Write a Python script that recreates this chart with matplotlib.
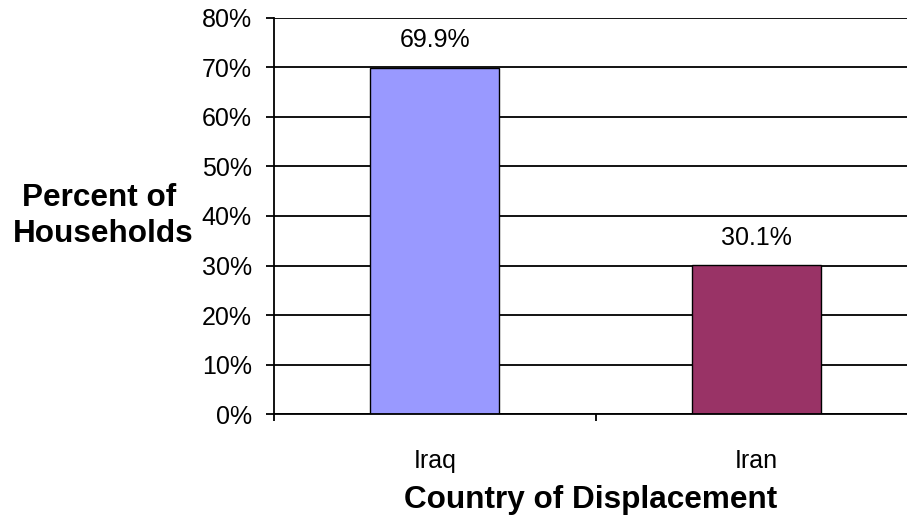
import matplotlib
matplotlib.use("Agg")
import matplotlib.pyplot as plt
from matplotlib.ticker import FixedLocator, PercentFormatter

categories = ["Iraq", "Iran"]
values = [0.699, 0.301]
value_labels = ["69.9%", "30.1%"]
bar_colors = ["#9999FF", "#993366"]
y_ticks = [0.0, 0.1, 0.2, 0.3, 0.4, 0.5, 0.6, 0.7, 0.8]

plt.rcParams["font.family"] = ["Liberation Sans", "DejaVu Sans"]

fig = plt.figure(figsize=(9.07, 5.26), dpi=100)
ax = fig.add_axes([273.7 / 907, 111.7 / 526, 644 / 907, 396.8 / 526])

x = list(range(len(categories)))
bars = ax.bar(x, values, width=0.4, color=bar_colors, edgecolor="black",
              linewidth=1.0, zorder=3)

ax.set_xlim(-0.5, len(categories) - 0.5)
ax.set_ylim(0, 0.8)
ax.set_yticks(y_ticks)
ax.yaxis.set_major_formatter(PercentFormatter(xmax=1.0, decimals=0))
ax.yaxis.grid(True, color="black", linewidth=1.3, zorder=0)
ax.set_axisbelow(True)

for s in ["top", "right"]:
    ax.spines[s].set_visible(False)
for s in ["left", "bottom"]:
    ax.spines[s].set_linewidth(1.3)
    ax.spines[s].set_zorder(4)

ax.tick_params(axis="y", direction="out", length=5.8, width=1.3, pad=10,
               labelsize=18)
ax.set_xticks(x)
ax.set_xticklabels(categories)
ax.tick_params(axis="x", which="major", length=0, pad=25, labelsize=18)
ax.xaxis.set_minor_locator(FixedLocator([i - 0.5 for i in range(len(categories) + 1)]))
ax.tick_params(axis="x", which="minor", direction="out", length=5, width=1.3)

for rect, lab in zip(bars, value_labels):
    ax.annotate(lab, (rect.get_x() + rect.get_width() / 2, rect.get_height()),
                xytext=(0, 11), textcoords="offset points",
                ha="center", va="bottom", fontsize=18)

fig.text(591 / 907, 1 - 500 / 526, "Country of Displacement", ha="center",
         va="center", fontsize=22.7, fontweight="bold")
fig.text(103 / 907, 1 - 216 / 526, "Percent of \nHouseholds", ha="center",
         va="center", multialignment="center", fontsize=22.7,
         fontweight="bold", linespacing=1.25)

fig.savefig("out.png", dpi=100)
